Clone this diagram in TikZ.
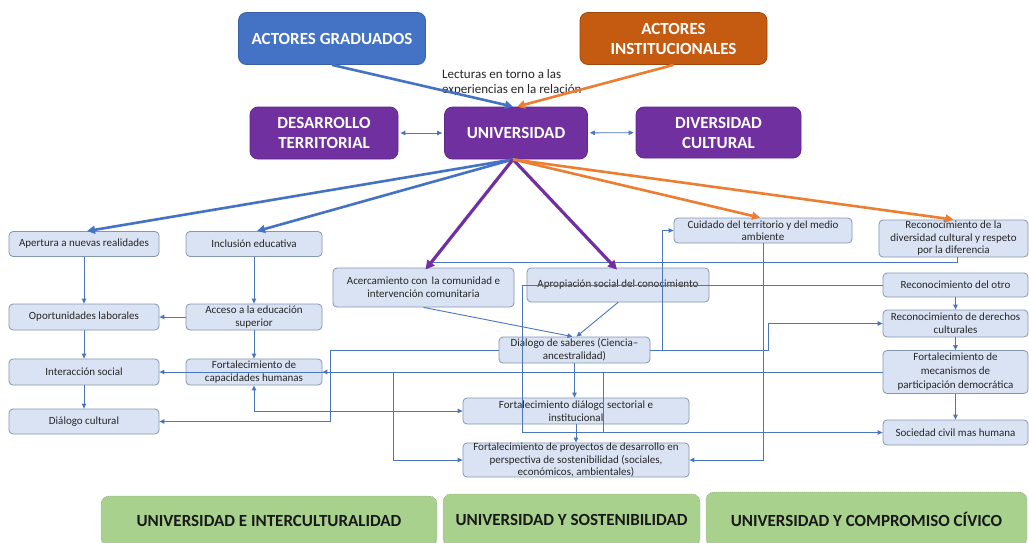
\documentclass[tikz,border=0pt]{standalone}
\usepackage{fontspec}
\setmainfont{Carlito}
\usetikzlibrary{arrows.meta}
\definecolor{gblue}{HTML}{4472C4}
\definecolor{ibrown}{HTML}{C55A11}
\definecolor{iorange}{HTML}{ED7D31}
\definecolor{upurple}{HTML}{7030A0}
\definecolor{boxfill}{HTML}{DAE3F3}
\definecolor{boxline}{HTML}{8497B0}
\definecolor{boxtext}{HTML}{262626}
\definecolor{lblue}{HTML}{4A76C0}
\definecolor{ggreen}{HTML}{A9D18E}
\tikzset{
  sb/.style={draw=boxline, fill=boxfill, rounded corners=4pt, line width=0.8pt,
    align=center, inner sep=0pt, text=boxtext, font=\fontsize{11}{13}\selectfont},
  hb/.style={rounded corners=8pt, align=center, text=white, inner sep=0pt,
    line width=0.8pt, font=\fontsize{17}{20}\selectfont\bfseries},
  gb/.style={draw=black!45, dash pattern=on 1pt off 1pt, fill=ggreen, rounded corners=8pt,
    text=black!90, inner sep=0pt, font=\fontsize{17}{19}\selectfont\bfseries},
  tl/.style={draw=lblue, line width=0.9pt},
  ta/.style={tl, -{Triangle[length=5pt,width=4.5pt]}},
  tb/.style={tl, {Triangle[length=5pt,width=4.5pt]}-{Triangle[length=5pt,width=4.5pt]}},
  thb/.style={draw=gblue, line width=2.6pt, -{Triangle[length=8pt,width=8pt]}},
  tho/.style={draw=iorange, line width=2.6pt, -{Triangle[length=8pt,width=8pt]}},
  thp/.style={draw=upurple, line width=3.2pt, -{Triangle[length=9pt,width=9pt]}},
}
\begin{document}
\begin{tikzpicture}[x=1pt,y=-1pt]
\clip (0,0) rectangle (1029,542);
\fill[white] (0,0) rectangle (1029,542);

% upper level: actors and the university
\node[hb, fill=gblue, draw=gblue!85!black, minimum width=187pt, minimum height=52pt] (ag) at (332,38.5) {ACTORES GRADUADOS};
\node[hb, fill=ibrown, draw=ibrown!80!black, minimum width=187pt, minimum height=52pt] (ai) at (673.5,38.5) {ACTORES\\INSTITUCIONALES};
\node[hb, fill=upurple, draw=upurple!85!black, minimum width=148pt, minimum height=52pt] (dt) at (324,133) {DESARROLLO\\TERRITORIAL};
\node[hb, fill=upurple, draw=upurple!85!black, minimum width=143pt, minimum height=52pt] (univ) at (516,133) {UNIVERSIDAD};
\node[hb, fill=upurple, draw=upurple!85!black, minimum width=165pt, minimum height=51pt] (dc) at (718.5,132.5) {DIVERSIDAD\\CULTURAL};
\node[font=\fontsize{13}{15}\selectfont, align=left, anchor=west, text=black!85, inner sep=0pt] (lect) at (442,82.5) {Lecturas en torno a las\\experiencias en la relación};

% left column
\node[sb, minimum width=150pt, minimum height=25pt] (apertura) at (84,244) {Apertura a nuevas realidades};
\node[sb, minimum width=136pt, minimum height=25pt] (inclusion) at (254,244) {Inclusión educativa};
\node[sb, minimum width=150pt, minimum height=26pt] (oport) at (84,317) {Oportunidades laborales};
\node[sb, minimum width=136pt, minimum height=26pt] (acceso) at (254,317) {Acceso a la educación\\superior};
\node[sb, minimum width=150pt, minimum height=26pt] (interaccion) at (84,372) {Interacción social};
\node[sb, minimum width=136pt, minimum height=26pt] (fortcap) at (254,372) {Fortalecimiento de\\capacidades humanas};
\node[sb, minimum width=150pt, minimum height=25pt] (dialcult) at (84,421.5) {Diálogo cultural};

% middle column
\node[sb, minimum width=181pt, minimum height=39pt] (acerc) at (423.5,287.5) {Acercamiento con \,la comunidad e\\intervención comunitaria};
\node[sb, minimum width=182pt, minimum height=34pt] (aprop) at (618,285) {Apropiación social del conocimiento};
\node[sb, minimum width=151pt, minimum height=26pt] (dialsab) at (574.5,350) {Diálogo de saberes (Ciencia–\\ancestralidad)};
\node[sb, minimum width=226pt, minimum height=26pt] (fortsect) at (576,411) {Fortalecimiento diálogo sectorial e\\institucional};
\node[sb, minimum width=226pt, minimum height=34pt, font=\fontsize{11}{12.5}\selectfont] (fortproy) at (576,460) {Fortalecimiento de proyectos de desarrollo en\\perspectiva de sostenibilidad (sociales,\\económicos, ambientales)};
\node[sb, minimum width=178pt, minimum height=25pt, font=\fontsize{11}{12.5}\selectfont] (cuidado) at (763,230.5) {Cuidado del territorio y del medio\\ambiente};

% right column
\node[sb, minimum width=149pt, minimum height=37pt, font=\fontsize{11}{12.5}\selectfont] (recdiv) at (953.5,238.5) {Reconocimiento de la\\diversidad cultural y respeto\\por la diferencia};
\node[sb, minimum width=145pt, minimum height=24pt] (recotro) at (955.5,285) {Reconocimiento del otro};
\node[sb, minimum width=145pt, minimum height=27pt] (recder) at (955.5,323.5) {Reconocimiento de derechos\\culturales};
\node[sb, minimum width=145pt, minimum height=43pt, font=\fontsize{11}{14}\selectfont] (fortmec) at (955.5,372) {Fortalecimiento de\\mecanismos de\\participación democrática};
\node[sb, minimum width=145pt, minimum height=25pt] (sociedad) at (955.5,432.5) {Sociedad civil mas humana};

% axes of the relationship
\node[gb, minimum width=336pt, minimum height=50pt] (g1) at (269,521) {UNIVERSIDAD E INTERCULTURALIDAD};
\node[gb, minimum width=257pt, minimum height=52pt] (g2) at (571.5,520) {UNIVERSIDAD Y SOSTENIBILIDAD};
\node[gb, minimum width=321pt, minimum height=54pt] (g3) at (866.5,519) {UNIVERSIDAD Y COMPROMISO CÍVICO};

% junction points
\coordinate (j1) at (393,372);
\coordinate (j2) at (428,262);
\coordinate (j3) at (603,372);

% thin connectors
\draw[ta] (apertura) -- (oport);
\draw[ta] (oport) -- (interaccion);
\draw[ta] (interaccion) -- (dialcult);
\draw[ta] (inclusion) -- (acceso);
\draw[ta] (acceso) -- (oport);
\draw[ta] (acceso) -- (fortcap);
\draw[ta] (fortmec.west) -- (interaccion.east);
\draw[ta] (fortmec.west) -- (fortcap.east);
\draw[ta] (dialsab.west) -- ++(-168,0) |- (dialcult.east);
\draw[tb] (fortcap.south) |- (fortsect.west);
\draw[ta] (j1) |- (fortproy.west);
\draw[ta] (acerc.south) -- ([xshift=-2pt]dialsab.north);
\draw[ta] (aprop.south) -- ([xshift=2pt]dialsab.north);
\draw[ta] (dialsab.south) -- (dialsab.south |- fortsect.north);
\draw[ta] (fortsect.south) -- (fortsect.south |- fortproy.north);
\draw[ta] (dialsab.east) -- ++(118,0) |- (recder.west);
\draw[ta] (dialsab.east) -- ++(12,0) |- (cuidado.west);
\draw[ta] (cuidado.south) |- (fortproy.east);
\draw[tl] ([xshift=4pt]recdiv.south) |- (j2);
\draw[ta] (recotro.west) -- ++(-360,0) |- (sociedad.west);
\draw[tl] (j3) -- (j3 |- sociedad.west);
\draw[ta] (recotro) -- (recder);
\draw[ta] (recder) -- (fortmec);
\draw[ta] (fortmec) -- (sociedad);
\draw[tb, shorten <=2pt, shorten >=2pt] (dt) -- (univ);
\draw[tb, shorten <=2pt, shorten >=2pt] (univ) -- (dc);

% main arrows
\draw[thb] (ag.south) -- ([xshift=-3pt]univ.north);
\draw[tho] (ai.south) -- ([xshift=1pt]univ.north);
\draw[thb] ([xshift=-3pt]univ.south) -- ([xshift=3pt]apertura.north);
\draw[thb] ([xshift=-3pt]univ.south) -- ([xshift=3pt]inclusion.north);
\draw[thp] ([xshift=-3pt]univ.south) -- ([xshift=2pt,yshift=-2pt]acerc.north);
\draw[thp] ([xshift=-3pt]univ.south) -- ([xshift=-1pt,yshift=-2pt]aprop.north);
\draw[tho] ([xshift=-3pt]univ.south) -- ([xshift=-3pt]cuidado.north);
\draw[tho] ([xshift=-3pt]univ.south) -- (recdiv.north);
\end{tikzpicture}
\end{document}
